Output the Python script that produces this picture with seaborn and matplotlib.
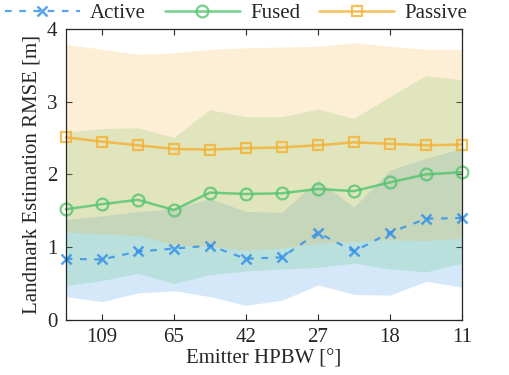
import numpy as np
import pandas as pd
import matplotlib
matplotlib.use('Agg')
import matplotlib.pyplot as plt
import seaborn as sns

# Emitter HPBW steps (index positions), labels shown every other step
steps = list(range(12))
tick_pos = [1, 3, 5, 7, 9, 11]
tick_labels = ['109', '65', '42', '27', '18', '11']

# Mean RMSE per series
active = [0.84, 0.83, 0.94, 0.98, 1.02, 0.84, 0.86, 1.20, 0.94, 1.20, 1.39, 1.40]
fused = [1.52, 1.59, 1.65, 1.51, 1.75, 1.73, 1.74, 1.80, 1.77, 1.89, 2.00, 2.03]
passive = [2.51, 2.45, 2.40, 2.35, 2.34, 2.36, 2.37, 2.40, 2.44, 2.42, 2.40, 2.41]

# Shaded spread (lower / upper) per series
active_lo = [0.32, 0.25, 0.37, 0.40, 0.32, 0.20, 0.27, 0.48, 0.35, 0.34, 0.53, 0.45]
active_hi = [1.38, 1.43, 1.49, 1.53, 1.67, 1.49, 1.48, 1.92, 1.55, 2.06, 2.22, 2.36]
fused_lo = [0.47, 0.54, 0.64, 0.50, 0.62, 0.67, 0.70, 0.72, 0.78, 0.70, 0.66, 0.78]
fused_hi = [2.58, 2.63, 2.64, 2.51, 2.89, 2.79, 2.79, 2.90, 2.77, 3.07, 3.36, 3.30]
passive_lo = [1.21, 1.18, 1.16, 1.03, 1.01, 0.96, 0.99, 1.05, 1.08, 1.10, 1.09, 1.12]
passive_hi = [3.79, 3.72, 3.65, 3.67, 3.72, 3.74, 3.75, 3.76, 3.81, 3.76, 3.72, 3.72]

c_active = '#2f8ee8'
c_fused = '#52c46e'
c_passive = '#f5b030'

sns.set_style('ticks')
plt.rcParams['font.family'] = ['Liberation Serif', 'DejaVu Serif']
fs = 15

df = pd.DataFrame({'step': steps, 'Active': active, 'Fused': fused, 'Passive': passive})

fig = plt.figure(figsize=(5.1, 3.75), dpi=100)
ax = fig.add_axes([0.129, 0.147, 0.777, 0.776])

# Spread bands
ax.fill_between(steps, active_lo, active_hi, color=c_active, alpha=0.2, linewidth=0)
ax.fill_between(steps, fused_lo, fused_hi, color=c_fused, alpha=0.2, linewidth=0)
ax.fill_between(steps, passive_lo, passive_hi, color=c_passive, alpha=0.2, linewidth=0)

# Mean lines
sns.lineplot(data=df, x='step', y='Active', ax=ax, color=c_active, label='Active',
             marker='x', markersize=7, markeredgewidth=1.8, markeredgecolor=c_active,
             linewidth=1.6, alpha=0.8, clip_on=False)
sns.lineplot(data=df, x='step', y='Fused', ax=ax, color=c_fused, label='Fused',
             marker='o', markersize=8.5, markerfacecolor='none', markeredgewidth=1.6,
             markeredgecolor=c_fused, linewidth=1.8, alpha=0.8, clip_on=False)
sns.lineplot(data=df, x='step', y='Passive', ax=ax, color=c_passive, label='Passive',
             marker='s', markersize=7.5, markerfacecolor='none', markeredgewidth=1.6,
             markeredgecolor=c_passive, linewidth=1.8, alpha=0.8, clip_on=False)
ax.lines[0].set_dashes((3.0, 3.4))

ax.set_xlim(0, 11)
ax.set_ylim(0, 4)
ax.set_xticks(tick_pos)
ax.set_xticklabels(tick_labels)
ax.set_yticks([0, 1, 2, 3, 4])
ax.set_xlabel('Emitter HPBW [°]', fontsize=fs, color='#262626', labelpad=2)
ax.set_ylabel('Landmark Estimation RMSE [m]', fontsize=fs, color='#262626', labelpad=4)
ax.tick_params(direction='in', length=4, width=0.8, top=True, right=True,
               labelsize=fs, colors='#262626', pad=6)
for s in ax.spines.values():
    s.set_visible(True)
    s.set_linewidth(0.9)
    s.set_color('#262626')

leg = ax.get_legend()
if leg is not None:
    leg.remove()
handles, labels = ax.get_legend_handles_labels()
fig.legend(handles, labels, loc='center', bbox_to_anchor=(0.463, 0.965), ncol=3,
           frameon=False, fontsize=fs, handlelength=3.6, handletextpad=0.5,
           columnspacing=0.9, borderaxespad=0)

fig.savefig('out.png', dpi=100)
